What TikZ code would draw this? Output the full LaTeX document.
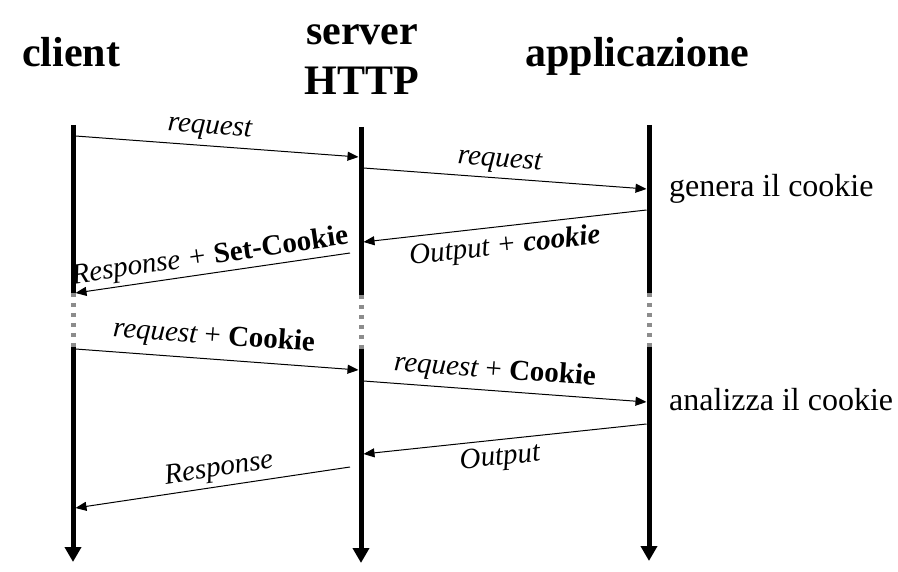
\documentclass[tikz,border=0pt]{standalone}
\usepackage{fontspec}
\setmainfont{Liberation Serif}
\usetikzlibrary{arrows.meta}
\begin{document}
\begin{tikzpicture}[x=1pt,y=-1pt,
  lifeline/.style={line width=5pt},
  endline/.style={line width=5pt,-{Triangle[length=15pt,width=16pt]}},
  gapline/.style={line width=5pt,draw=black!45,dash pattern=on 4pt off 6pt},
  msg/.style={line width=1pt,-{Triangle[length=11pt,width=9pt]}},
  lbl/.style={font=\fontsize{29}{32}\selectfont\itshape,text height=20pt,text depth=6pt,inner sep=0pt,anchor=center},
  head/.style={font=\fontsize{42}{50}\selectfont\bfseries,align=center,anchor=base,inner sep=0pt},
  note/.style={font=\fontsize{32}{35}\selectfont,anchor=west,inner sep=0pt}]
\useasboundingbox (0,0) rectangle (898,572);

% headers
\node[head] (hclient) at (71,67) {client};
\node[head] (hserver) at (362,95) {server\\HTTP};
\node[head] (happ) at (637.5,67) {applicazione};

% lifeline coordinates
\coordinate (c0) at (73,125);  \coordinate (c1) at (73,293);
\coordinate (c2) at (73,347);  \coordinate (c3) at (73,562);
\coordinate (s0) at (361,127); \coordinate (s1) at (361,295);
\coordinate (s2) at (361,349); \coordinate (s3) at (361,563);
\coordinate (a0) at (649,125); \coordinate (a1) at (649,293);
\coordinate (a2) at (649,347); \coordinate (a3) at (649,561);

\draw[lifeline] (c0) -- (c1);
\draw[gapline] (c1) -- (c2);
\draw[endline] (c2) -- (c3);
\draw[lifeline] (s0) -- (s1);
\draw[gapline] (s1) -- (s2);
\draw[endline] (s2) -- (s3);
\draw[lifeline] (a0) -- (a1);
\draw[gapline] (a1) -- (a2);
\draw[endline] (a2) -- (a3);

% message endpoints
\coordinate (m1a) at (75.5,136);  \coordinate (m1b) at (358.5,157);
\coordinate (m2a) at (363.5,168); \coordinate (m2b) at (646.5,189);
\coordinate (m3a) at (646.5,210); \coordinate (m3b) at (363.5,242);
\coordinate (m4a) at (350,253);   \coordinate (m4b) at (75.5,293);
\coordinate (m5a) at (75.5,349);  \coordinate (m5b) at (358.5,370);
\coordinate (m6a) at (363.5,381); \coordinate (m6b) at (646.5,402);
\coordinate (m7a) at (646.5,424); \coordinate (m7b) at (363.5,454);
\coordinate (m8a) at (350,467);   \coordinate (m8b) at (75.5,508);

\draw[msg] (m1a) -- (m1b);
\draw[msg] (m2a) -- (m2b);
\draw[msg] (m3a) -- (m3b);
\draw[msg] (m4a) -- (m4b);
\draw[msg] (m5a) -- (m5b);
\draw[msg] (m6a) -- (m6b);
\draw[msg] (m7a) -- (m7b);
\draw[msg] (m8a) -- (m8b);

% message labels
\node[lbl,rotate=-4.24] (l1) at (210,127) {request};
\node[lbl,rotate=-4.23] (l2) at (500,160) {request};
\node[lbl,rotate=6.43]  (l3) at (505,247) {Output + \textbf{cookie}};
\node[lbl,rotate=8.29]  (l4) at (210,257) {Response + \upshape\bfseries Set-Cookie};
\node[lbl,rotate=-4.24] (l5) at (214,337) {request \upshape+ \bfseries Cookie};
\node[lbl,rotate=-4.23] (l6) at (495,371) {request \upshape+ \bfseries Cookie};
\node[lbl,rotate=6.05]  (l7) at (500,458) {Output};
\node[lbl,rotate=8.49]  (l8) at (219,469) {Response};

% side notes
\node[note] (n1) at (669,189) {genera il cookie};
\node[note] (n2) at (669,400) {analizza il cookie};
\end{tikzpicture}
\end{document}
